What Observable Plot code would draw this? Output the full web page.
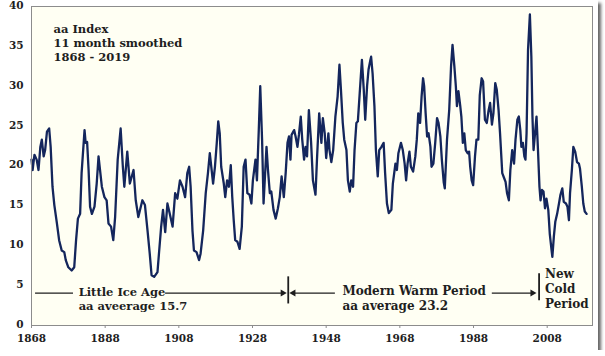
<!DOCTYPE html>
<html>
<head>
<meta charset="utf-8">
<script src="https://cdn.jsdelivr.net/npm/d3@7"></script>
<script src="https://cdn.jsdelivr.net/npm/@observablehq/plot@0.6"></script>
<style>
  html, body { margin: 0; padding: 0; background: #ffffff; }
  #wrap { width: 598px; height: 350px; box-shadow: 3px 3px 3px #666; background: #fff; }
</style>
</head>
<body>
<div id="wrap"></div>
<script>
const years = [1868.0,1868.3,1868.8,1869.4,1869.9,1870.4,1870.8,1871.3,1871.7,1872.2,1872.8,1873.2,1873.7,1874.2,1874.9,1875.5,1876.2,1876.9,1877.3,1878.0,1878.9,1879.6,1880.1,1880.6,1881.2,1881.6,1882.4,1882.7,1883.1,1883.5,1883.9,1884.4,1885.1,1885.7,1886.2,1886.6,1887.1,1887.8,1888.4,1888.9,1889.6,1890.2,1890.7,1891.4,1892.2,1892.8,1893.2,1894.0,1894.7,1895.7,1896.3,1897.0,1898.1,1898.8,1899.5,1900.1,1900.6,1901.3,1902.2,1902.6,1903.2,1903.7,1904.3,1904.9,1905.4,1906.3,1907.0,1907.6,1908.3,1909.0,1909.7,1910.3,1910.8,1911.2,1911.7,1912.1,1912.8,1913.5,1913.9,1914.6,1915.3,1915.9,1916.4,1916.9,1917.3,1917.8,1918.3,1918.7,1919.1,1919.5,1920.2,1920.6,1921.1,1921.6,1922.1,1922.5,1922.9,1923.3,1923.9,1924.5,1925.1,1925.6,1926.1,1926.6,1927.2,1927.7,1928.1,1928.8,1929.2,1929.7,1930.1,1930.6,1931.0,1931.8,1932.2,1932.7,1933.1,1933.7,1934.3,1934.9,1935.4,1935.9,1936.5,1937.0,1937.5,1937.9,1938.3,1938.6,1939.3,1939.7,1940.2,1940.6,1941.1,1941.5,1942.0,1942.4,1942.8,1943.3,1943.9,1944.4,1945.1,1945.5,1946.1,1946.7,1947.1,1947.6,1948.0,1948.6,1948.9,1949.4,1949.9,1950.5,1951.1,1951.6,1952.0,1952.5,1952.9,1953.5,1953.9,1954.4,1954.8,1955.3,1955.7,1956.2,1956.6,1957.1,1957.7,1958.2,1958.6,1959.1,1959.5,1960.0,1960.2,1960.6,1961.1,1961.5,1962.0,1962.4,1963.0,1963.6,1964.0,1964.5,1965.0,1965.7,1966.1,1966.8,1967.2,1967.6,1968.3,1968.8,1969.3,1969.7,1970.1,1970.6,1971.0,1971.6,1972.2,1972.6,1973.0,1973.5,1973.9,1974.3,1974.6,1975.0,1975.4,1975.8,1976.3,1976.6,1977.1,1977.6,1978.1,1978.5,1979.0,1979.4,1979.9,1980.2,1980.8,1981.4,1981.9,1982.3,1982.8,1983.2,1983.5,1983.9,1984.4,1984.7,1985.1,1985.5,1985.9,1986.4,1986.8,1987.1,1987.5,1987.9,1988.4,1988.8,1989.3,1989.7,1990.2,1990.6,1991.1,1991.6,1992.1,1992.5,1993.0,1993.4,1993.9,1994.3,1994.8,1995.2,1995.8,1996.3,1996.7,1997.1,1997.6,1998.0,1998.5,1999.0,1999.4,1999.9,2000.3,2000.7,2001.0,2001.4,2001.8,2002.1,2002.4,2002.8,2003.3,2003.7,2004.0,2004.3,2004.7,2005.1,2005.5,2005.9,2006.2,2006.6,2007.0,2007.4,2007.8,2008.3,2008.7,2009.2,2009.4,2009.8,2010.2,2010.7,2011.2,2011.6,2012.1,2012.5,2013.1,2013.5,2013.9,2014.2,2014.7,2015.1,2015.6,2016.1,2016.6,2016.9,2017.4,2017.8,2018.2,2018.7];
const aaValues = [20.8,19.5,21.4,20.8,19.5,22.4,23.3,21.2,22.0,24.3,24.7,22.4,17.4,15.1,12.8,10.7,9.4,9.2,8.2,7.3,6.9,7.3,10.7,13.4,14.0,19.1,24.5,22.9,23.0,19.5,14.9,14.0,14.9,17.8,21.2,19.5,17.4,16.1,15.7,12.8,12.4,10.7,13.6,20.8,24.7,19.9,17.4,21.8,17.8,19.5,15.7,13.6,15.7,15.1,11.9,9.0,6.3,6.1,6.7,9.0,12.4,14.5,11.7,15.3,14.3,12.4,16.6,15.9,18.2,17.4,16.1,19.1,19.9,17.4,11.9,9.4,9.2,8.2,9.0,11.9,16.6,19.1,21.6,19.5,17.8,19.9,22.9,25.6,24.1,19.9,17.8,16.1,18.2,17.4,20.1,16.1,13.2,10.7,10.5,9.6,12.4,19.9,20.8,16.6,16.4,15.3,18.2,20.8,18.2,24.5,30.0,23.3,15.3,22.4,19.5,16.6,16.8,14.5,13.4,14.7,16.1,18.7,16.1,19.1,22.9,23.7,20.8,23.9,24.5,23.7,22.4,23.9,26.2,23.3,20.8,22.4,21.2,27.0,23.0,18.2,16.4,20.8,26.6,22.9,26.0,24.1,21.0,24.1,22.0,20.5,22.0,26.2,28.7,32.7,29.6,25.4,23.3,22.0,18.2,16.8,18.2,17.4,22.0,25.4,25.6,29.1,33.3,29.6,25.8,30.0,32.1,33.3,33.7,31.6,27.5,22.0,18.7,22.0,22.4,22.9,19.1,15.3,14.1,14.5,17.8,20.3,19.5,21.6,22.9,22.0,20.3,18.2,20.3,21.8,19.9,19.3,21.2,23.3,26.6,25.4,28.7,31.0,30.0,26.6,23.7,24.1,22.4,19.9,20.3,22.9,26.0,25.4,23.7,20.8,18.0,17.2,23.3,27.0,32.5,35.2,32.5,30.0,27.5,29.4,27.5,26.2,22.9,24.1,22.0,21.6,21.8,19.9,18.2,17.6,21.2,23.3,23.3,28.9,31.0,30.6,25.8,25.4,27.0,27.9,25.2,26.6,30.4,29.6,27.0,24.1,19.1,18.5,18.0,16.6,15.7,19.5,22.0,20.3,23.3,25.8,26.2,24.5,22.4,22.9,21.2,20.8,24.1,34.6,39.0,33.7,26.2,22.0,24.1,26.2,22.0,17.4,15.7,17.0,16.8,14.7,15.9,14.5,11.5,9.4,8.6,11.1,13.0,14.0,15.3,16.4,17.2,15.5,15.3,14.9,13.2,16.6,19.5,22.4,21.8,20.5,20.3,19.7,17.4,15.3,14.3,14.0];

const xTicks = [1868, 1888, 1908, 1928, 1948, 1968, 1988, 2008];
const yTicks = [0, 5, 10, 15, 20, 25, 30, 35, 40];

const titleLines = "aa Index\n11 month smoothed\n1868 - 2019";

// period annotation: horizontal arrow segments, boundary bars, labels
const arrowLevel = 4.06;
const segStart = [1869.1, 1904.4, 1938.6, 1993.1];
const segEnd   = [1879.4, 1936.6, 1950.5, 2004.4];
const headX    = [1936.2, 1939.1, 2004.0];
const headDir  = [90, -90, 90];
const barX  = [1937.7, 2005.8];
const barY1 = [2.7, 3.1];
const barY2 = [6.1, 6.5];
const leftLabel = "Little Ice Age\naa aveerage 15.7";
const labelText = ["Modern Warm Period\naa average 23.2", "New\nCold\nPeriod"];
const leftX = 1880.8, leftY = 1.9;
const labelX = [1952.4, 2007.4];
const labelY = [2.0, 2.25];

const data = years.map((y, i) => ({year: y, aa: aaValues[i]}));
const segs = segStart.map((s, i) => ({x1: s, x2: segEnd[i], y: arrowLevel}));
const heads = headX.map((x, i) => ({x, y: arrowLevel, r: headDir[i]}));
const bars = barX.map((x, i) => ({x, y1: barY1[i], y2: barY2[i]}));
const labels = labelText.map((t, i) => ({t, x: labelX[i], y: labelY[i]}));

const FONT = "DejaVu Serif";
const INK = "#1e1e1e";

const chart = Plot.plot({
  width: 598,
  height: 350,
  marginLeft: 31,
  marginRight: 6,
  marginTop: 6,
  marginBottom: 25,
  style: {fontFamily: FONT, fontWeight: "bold", fontSize: "11px", background: "#ffffff", color: INK},
  x: {domain: [1868, 2020.3]},
  y: {domain: [0, 40]},
  marks: [
    Plot.frame({fill: "#fffff3", stroke: null}),
    Plot.line(data, {x: "year", y: "aa", stroke: "#14265c", strokeWidth: 2.3, strokeLinejoin: "round"}),
    Plot.ruleY(segs, {x1: "x1", x2: "x2", y: "y", stroke: INK, strokeWidth: 1.2}),
    Plot.dot(heads, {x: "x", y: "y", rotate: "r", symbol: "triangle", r: 2.6, fill: INK, stroke: null}),
    Plot.ruleX(bars, {x: "x", y1: "y1", y2: "y2", stroke: INK, strokeWidth: 1.8}),
    Plot.text([{t: leftLabel, x: leftX, y: leftY}], {x: "x", y: "y", text: "t", textAnchor: "start", lineAnchor: "bottom", lineHeight: 1.27, fontSize: 11.5, fontWeight: "bold", fill: INK, fontFamily: FONT}),
    Plot.text(labels, {x: "x", y: "y", text: "t", textAnchor: "start", lineAnchor: "bottom", lineHeight: 1.22, fontSize: 12, fontWeight: "bold", fill: INK, fontFamily: FONT}),
    Plot.text([titleLines], {frameAnchor: "top-left", dx: 22, dy: 16, lineAnchor: "top", textAnchor: "start", lineHeight: 1.25, fontSize: 11.5, fontWeight: "bold", fill: INK, fontFamily: FONT}),
    Plot.frame({stroke: "#8c8c8c", strokeWidth: 1}),
    Plot.axisX({ticks: xTicks, tickFormat: d => String(d), tickSize: 3, tickPadding: 6, label: null, fontSize: 10.5, fontWeight: "bold", stroke: "#8c8c8c"}),
    Plot.axisY({ticks: yTicks, tickSize: 0, tickPadding: 8, label: null, fontSize: 10.5, fontWeight: "bold", dy: -1})
  ]
});
document.getElementById("wrap").appendChild(chart);
</script>
</body>
</html>
